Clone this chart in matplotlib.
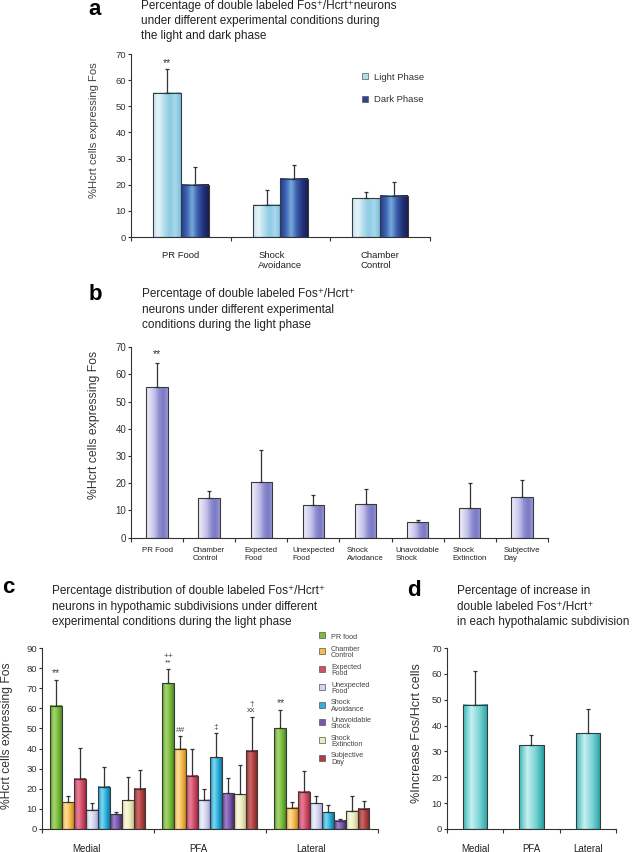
import numpy as np
import matplotlib
matplotlib.use('Agg')
import matplotlib.pyplot as plt
from matplotlib.colors import LinearSegmentedColormap
from matplotlib.lines import Line2D

plt.rcParams['font.family'] = ['Liberation Sans', 'DejaVu Sans']

# ---- data ----
# panel a
a_groups = ['PR Food', 'Shock\nAvoidance', 'Chamber\nControl']
a_light = [55.2, 12.4, 14.9]
a_light_err = [9.0, 5.6, 2.4]
a_dark = [19.9, 22.2, 15.7]
a_dark_err = [6.8, 5.4, 5.5]

# panel b
b_groups = ['PR Food', 'Chamber\nControl', 'Expected\nFood', 'Unexpected\nFood',
            'Shock\nAviodance', 'Unavoidable\nShock', 'Shock\nExtinction', 'Subjective\nDay']
b_vals = [55.3, 14.7, 20.5, 11.9, 12.3, 5.6, 10.9, 15.0]
b_err = [9.1, 2.6, 11.7, 3.7, 5.6, 1.0, 9.1, 6.1]

# panel c
c_regions = ['Medial', 'PFA', 'Lateral']
c_conditions = ['PR food', 'Chamber\nControl', 'Expected\nFood', 'Unexpected\nFood',
                'Shock\nAvoidance', 'Unavoidable\nShock', 'Shock\nExtinction', 'Subjective\nDay']
c_medial = [61.4, 13.3, 24.9, 9.5, 21.1, 7.3, 14.4, 20.1]
c_medial_err = [12.7, 3.1, 15.3, 3.6, 9.5, 1.0, 11.3, 9.1]
c_pfa = [72.4, 40.0, 26.4, 14.6, 35.7, 17.8, 17.3, 38.9]
c_pfa_err = [7.3, 6.2, 13.6, 5.2, 11.8, 7.6, 14.3, 16.9]
c_lateral = [50.0, 10.6, 18.6, 12.8, 8.3, 4.2, 9.0, 10.1]
c_lateral_err = [9.1, 2.7, 10.1, 3.8, 3.8, 0.9, 7.4, 4.0]
# (region, condition, marker)
c_marks = [(0, 0, '**'), (1, 0, '++\n**'), (1, 1, '##'), (1, 4, '‡'), (1, 7, '†\nxx'), (2, 0, '**')]

# panel d
d_regions = ['Medial', 'PFA', 'Lateral']
d_vals = [48.0, 32.3, 37.1]
d_err = [13.2, 4.1, 9.5]

# ---- colours (left -> right shading across each bar) ----
light_cols = ['#c2e4ef', '#e6f4f9', '#b4ddec', '#8ccce4', '#a8d8ec', '#7cc0dc']
dark_cols = ['#243a8e', '#3c62b0', '#78aadc', '#3a5eac', '#22327e', '#18204e']
lav_cols = ['#eeecf8', '#dcdaf2', '#c0bee8', '#8f8dd0', '#7a78c4', '#9c9ad6']
c_cols = [
    ['#5a9a2a', '#a6d870', '#7cbc40', '#4a8a20'],
    ['#e8a030', '#fde2a0', '#f4bc50', '#d08a20'],
    ['#b83850', '#e88098', '#d05068', '#a02840'],
    ['#c0c0e8', '#f0f0fa', '#d4d4f0', '#a8a8d8'],
    ['#1090c0', '#80d8f0', '#30b0d8', '#0878a8'],
    ['#5a3a88', '#a080c8', '#7858a8', '#482a70'],
    ['#d8d498', '#fafae0', '#ecebc0', '#c8c488'],
    ['#8c2c2c', '#d06868', '#a84040', '#7a2020'],
]
teal_cols = ['#38b8b8', '#c8f0f0', '#78d4d4', '#28a0a0']
AX = '#333333'


def gradient_bars(ax, x, h, w, colors):
    cmap = LinearSegmentedColormap.from_list('g', colors)
    bars = ax.bar(x, h, w, facecolor='none', edgecolor='#3a3a3a', linewidth=0.8, zorder=3)
    ramp = np.linspace(0, 1, 100)[None, :]
    for bar in bars:
        x0 = bar.get_x()
        ax.imshow(ramp, cmap=cmap, aspect='auto', interpolation='bilinear',
                  extent=(x0, x0 + bar.get_width(), 0, bar.get_height()), zorder=2)
    return bars


def err(ax, x, h, e):
    ax.errorbar(x, h, yerr=[np.zeros(len(h)), e], fmt='none', ecolor=AX,
                elinewidth=0.9, capsize=1.3, capthick=0.9, zorder=4)


def square(col, size):
    return Line2D([], [], marker='s', ls='none', markersize=size,
                  markerfacecolor=col, markeredgecolor='#555555', markeredgewidth=0.5)


def style(ax, n, ymax, labels, lab_x, fs, pad, tfs=6.8):
    ax.set_xlim(-0.5, n - 0.5)
    ax.set_ylim(0, ymax)
    ax.spines[['top', 'right']].set_visible(False)
    ax.spines[['left', 'bottom']].set_linewidth(0.8)
    ax.spines[['left', 'bottom']].set_color(AX)
    ax.set_xticks(np.arange(n + 1) - 0.5)
    ax.set_xticklabels([])
    ax.tick_params(axis='x', which='major', length=3, width=0.8, color=AX)
    ax.set_xticks(lab_x, minor=True)
    ax.set_xticklabels(labels, minor=True, fontsize=fs, color='#222222',
                       multialignment='left', va='top')
    ax.tick_params(axis='x', which='minor', length=0, pad=pad)
    ax.set_yticks(np.arange(0, ymax + 1, 10))
    ax.tick_params(axis='y', length=2.5, width=0.8, pad=1, labelsize=tfs,
                   color=AX, labelcolor='#333333')


fig = plt.figure(figsize=(6.34, 8.52), dpi=100)

# ---------------- panel a ----------------
ax = fig.add_axes([0.2066, 0.7218, 0.4716, 0.2148])
xa = np.arange(len(a_groups))
bw = 0.28
gradient_bars(ax, xa - bw / 2, a_light, bw, light_cols)
gradient_bars(ax, xa + bw / 2, a_dark, bw, dark_cols)
err(ax, xa - bw / 2, a_light, a_light_err)
err(ax, xa + bw / 2, a_dark, a_dark_err)
style(ax, 3, 70, a_groups, xa, 6.8, 10)
ax.text(xa[0] - bw / 2, a_light[0] + a_light_err[0] + 2.5, '**', ha='center', va='center',
        fontsize=7.5, color=AX)
ax.set_ylabel('%Hcrt cells expressing Fos', fontsize=8.1, color='#444444', va='center')
ax.yaxis.set_label_coords(-0.124, 0.585)
leg = ax.legend(handles=[square('#b4ddec', 4.7), square('#2c4496', 4.7)],
                labels=['Light Phase', 'Dark Phase'], loc='upper left',
                bbox_to_anchor=(0.772, 0.898), frameon=False, fontsize=6.8,
                handlelength=0.7, handleheight=0.9, handletextpad=0.6,
                labelspacing=1.4, borderpad=0, borderaxespad=0)
for t in leg.get_texts():
    t.set_color('#333333')

fig.text(0.139, 0.9824, 'a', fontsize=16, fontweight='bold', va='baseline')
fig.text(0.2224, 0.9539, 'Percentage of double labeled Fos⁺/Hcrt⁺neurons\n'
         'under different experimental conditions during\nthe light and dark phase',
         fontsize=8.5, va='baseline', linespacing=1.35, color='#222222')

# ---------------- panel b ----------------
ax = fig.add_axes([0.2066, 0.3689, 0.6577, 0.2235])
xb = np.arange(len(b_groups))
gradient_bars(ax, xb, b_vals, 0.41, lav_cols)
err(ax, xb, b_vals, b_err)
style(ax, 8, 70, b_groups, xb, 5.7, 7, tfs=7)
ax.text(xb[0], b_vals[0] + b_err[0] + 3, '**', ha='center', va='center', fontsize=7.5, color=AX)
ax.set_ylabel('%Hcrt cells expressing Fos', fontsize=8.8, color='#333333', va='center')
ax.yaxis.set_label_coords(-0.088, 0.592)

fig.text(0.140, 0.6479, 'b', fontsize=16, fontweight='bold', va='baseline')
fig.text(0.224, 0.6154, 'Percentage of double labeled Fos⁺/Hcrt⁺\n'
         'neurons under different experimental\nconditions during the light phase',
         fontsize=8.5, va='baseline', linespacing=1.35, color='#222222')

# ---------------- panel c ----------------
ax = fig.add_axes([0.0662, 0.027, 0.530, 0.2124])
xc = np.arange(len(c_regions))
cw = 0.106
c_data = np.array([c_medial, c_pfa, c_lateral])
c_errs = np.array([c_medial_err, c_pfa_err, c_lateral_err])
handles = []
for j in range(len(c_conditions)):
    xs = xc + (j - 3.5) * cw
    gradient_bars(ax, xs, c_data[:, j], cw, c_cols[j])
    err(ax, xs, c_data[:, j], c_errs[:, j])
    handles.append(square(c_cols[j][2], 3.8))
for r, j, m in c_marks:
    top = c_data[r, j] + c_errs[r, j]
    fs = 7.5 if m == '**' else 6
    ax.text(xc[r] + (j - 3.5) * cw, top + 1.2, m, ha='center', va='bottom', fontsize=fs,
            color='#444444', linespacing=0.8)
style(ax, 3, 90, c_regions, xc - 0.1, 7, 10.5)
ax.set_ylabel('%Hcrt cells expressing Fos', fontsize=8.7, color='#333333', va='center')
ax.yaxis.set_label_coords(-0.105, 0.514)
leg = ax.legend(handles=handles, labels=c_conditions, loc='upper left',
                bbox_to_anchor=(0.828, 1.092), frameon=False, fontsize=5.2,
                handlelength=0.6, handleheight=1.8, handletextpad=0.9,
                labelspacing=0.62, borderpad=0, borderaxespad=0)
for t in leg.get_texts():
    t.set_linespacing(0.85)
    t.set_color('#444444')

fig.text(0.003, 0.304, 'c', fontsize=16, fontweight='bold', va='baseline')
fig.text(0.082, 0.2664, 'Percentage distribution of double labeled Fos⁺/Hcrt⁺\n'
         'neurons in hypothamic subdivisions under different\n'
         'experimental conditions during the light phase',
         fontsize=8.5, va='baseline', linespacing=1.37, color='#222222')

# ---------------- panel d ----------------
ax = fig.add_axes([0.705, 0.027, 0.2666, 0.2124])
xd = np.arange(len(d_regions))
gradient_bars(ax, xd, d_vals, 0.43, teal_cols)
err(ax, xd, d_vals, d_err)
style(ax, 3, 70, d_regions, xd, 7, 10.5)
ax.set_ylabel('%Increase Fos/Hcrt cells', fontsize=9.1, color='#333333', va='center')
ax.yaxis.set_label_coords(-0.179, 0.53)

fig.text(0.642, 0.3005, 'd', fontsize=16, fontweight='bold', va='baseline')
fig.text(0.721, 0.2664, 'Percentage of increase in\ndouble labeled Fos⁺/Hcrt⁺\n'
         'in each hypothalamic subdivision',
         fontsize=8.5, va='baseline', linespacing=1.37, color='#222222')

fig.savefig('out.png', dpi=100)
